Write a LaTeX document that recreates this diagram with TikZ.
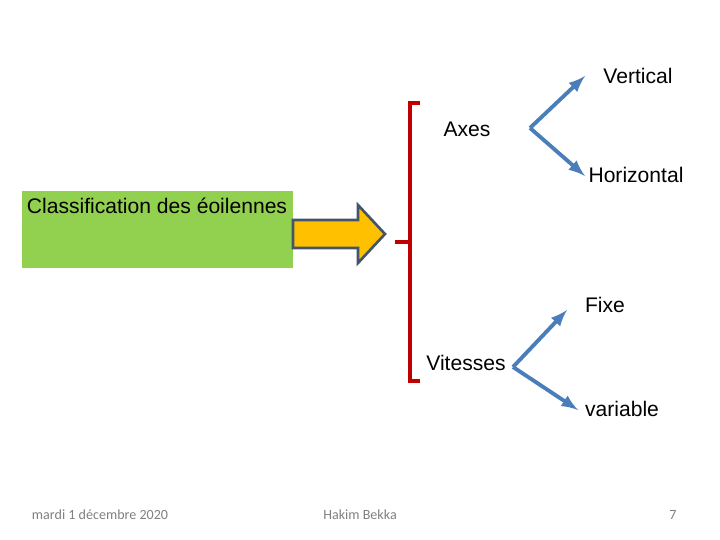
\documentclass[tikz,border=0pt]{standalone}
\usepackage{fontspec}
\setmainfont{Liberation Sans}
\newfontfamily\footfont{Carlito}
\definecolor{gbox}{RGB}{146,208,80}
\definecolor{yarrow}{RGB}{255,192,0}
\definecolor{aedge}{RGB}{68,84,106}
\definecolor{brk}{RGB}{192,0,0}
\definecolor{blu}{RGB}{74,126,187}
\tikzset{lbl/.style={font=\fontsize{12}{14}\selectfont,inner sep=1pt},
foot/.style={font=\footfont\fontsize{8}{10}\selectfont,text=gray},
conn/.style={draw=blu,line width=2.2pt,-latex}}
\begin{document}
\begin{tikzpicture}[x=0.02cm,y=-0.02cm]
\useasboundingbox (0,0) rectangle (720,540);
\node[fill=gbox,minimum width=271*0.02cm,minimum height=77*0.02cm,anchor=north west,inner sep=0] (box) at (22,191) {};
\node[lbl] (cls) at (157,206) {Classification des éoilennes};
\draw[fill=yarrow,draw=aedge,line width=1.5pt] (293,220) -- (358,220) -- (358,205) -- (385,234) -- (358,263) -- (358,248) -- (293,248) -- cycle;
\draw[brk,line width=2pt] (420,103) -- (410,103) -- (410,381) -- (420,381);
\draw[brk,line width=2pt] (410,242) -- (395,242);
\node[lbl] (axes) at (467,129) {Axes};
\node[lbl] (vert) at (638,76) {Vertical};
\node[lbl] (hor) at (636,175) {Horizontal};
\coordinate (a0) at (530,128);
\coordinate (a1) at (585,76);
\coordinate (a2) at (585,176);
\draw[conn] (a0) -- (a1);
\draw[conn] (a0) -- (a2);
\node[lbl] (vit) at (466,363) {Vitesses};
\node[lbl] (fixe) at (605,305) {Fixe};
\node[lbl] (var) at (622,409) {variable};
\coordinate (v0) at (513,367);
\coordinate (v1) at (567,310);
\coordinate (v2) at (578,410);
\draw[conn] (v0) -- (v1);
\draw[conn] (v0) -- (v2);
\node[foot] (date) at (100,515) {mardi 1 décembre 2020};
\node[foot] (auth) at (360,515) {Hakim Bekka};
\node[foot] (num) at (673,515) {7};
\end{tikzpicture}
\end{document}
